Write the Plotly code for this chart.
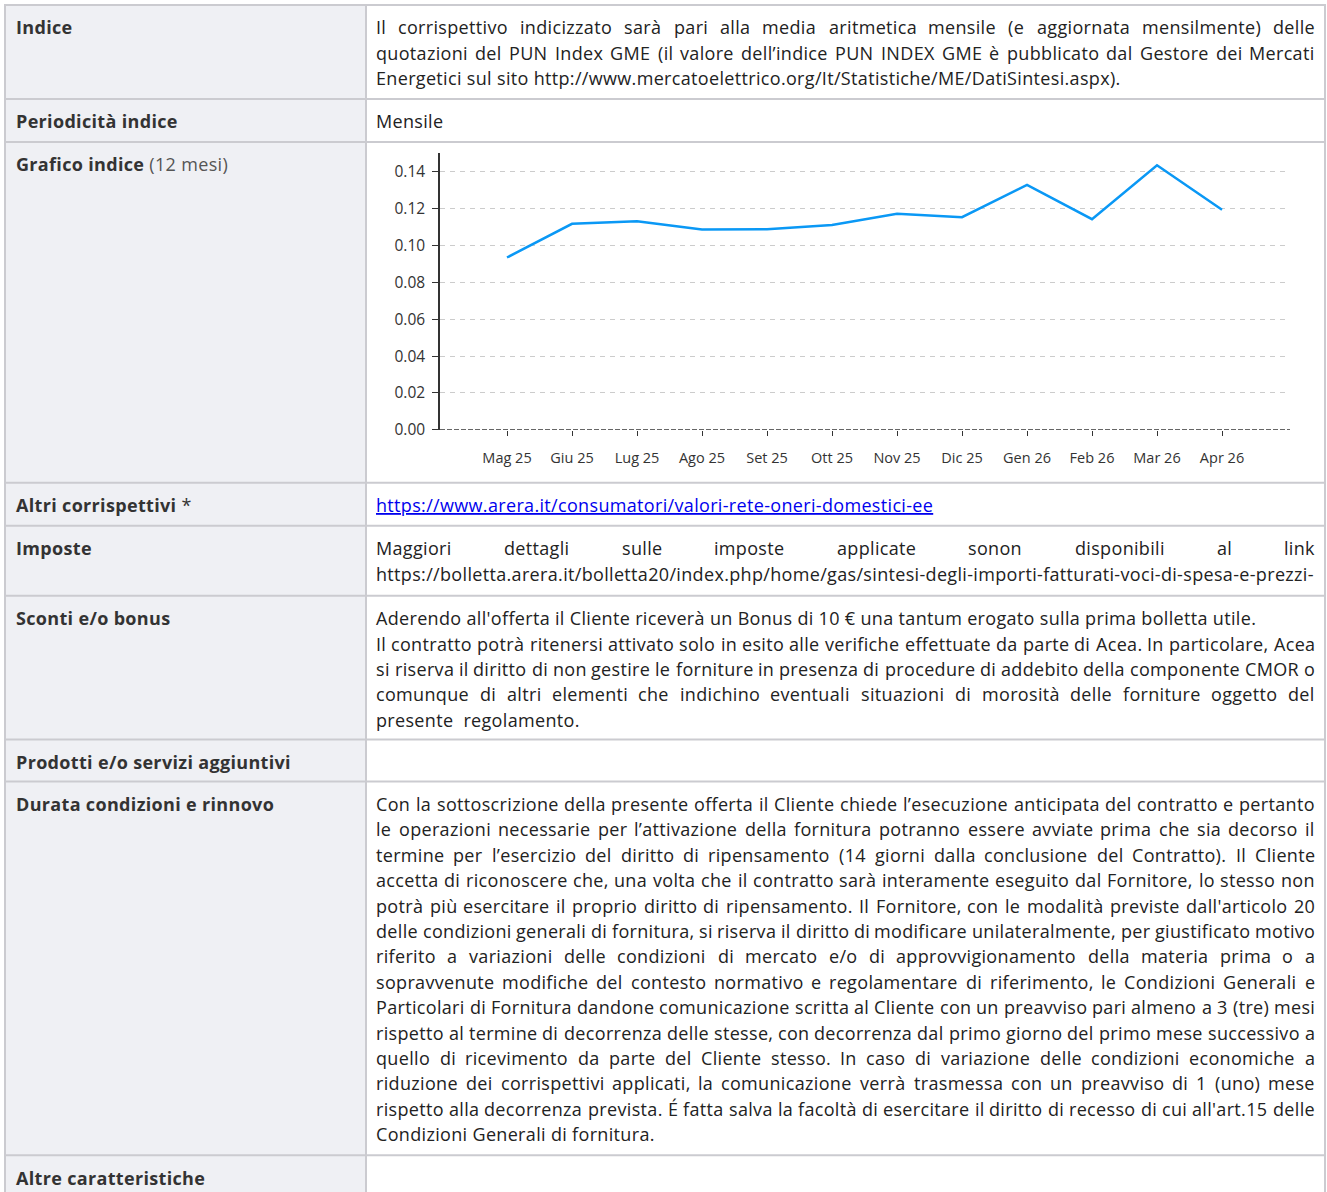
import plotly.graph_objects as go

# ---------------- data ----------------
months = ["Mag 25", "Giu 25", "Lug 25", "Ago 25", "Set 25", "Ott 25",
          "Nov 25", "Dic 25", "Gen 26", "Feb 26", "Mar 26", "Apr 26"]
pun_values = [0.0935, 0.1118, 0.1132, 0.1087, 0.1089, 0.1111,
              0.1172, 0.1154, 0.1329, 0.1143, 0.1436, 0.1194]
y_tick_values = [0.00, 0.02, 0.04, 0.06, 0.08, 0.10, 0.12, 0.14]

row_labels = [
    "<b>Indice</b>",
    "<b>Periodicità indice</b>",
    "<b>Grafico indice</b> <span style='color:#555'>(12 mesi)</span>",
    "<b>Altri corrispettivi</b> *",
    "<b>Imposte</b>",
    "<b>Sconti e/o bonus</b>",
    "<b>Prodotti e/o servizi aggiuntivi</b>",
    "<b>Durata condizioni e rinnovo</b>",
    "<b>Altre caratteristiche</b>",
]

# each line: (text, justified?)
row_texts = [
    [("Il corrispettivo indicizzato sarà pari alla media aritmetica mensile (e aggiornata mensilmente) delle", True),
     ("quotazioni del PUN Index GME (il valore dell’indice PUN INDEX GME è pubblicato dal Gestore dei Mercati", True),
     ("Energetici sul sito http://www.mercatoelettrico.org/It/Statistiche/ME/DatiSintesi.aspx).", False)],
    [("Mensile", False)],
    [],
    [("LINK", False)],
    [("Maggiori dettagli sulle imposte applicate sonon disponibili al link", True),
     ("https://bolletta.arera.it/bolletta20/index.php/home/gas/sintesi-degli-importi-fatturati-voci-di-spesa-e-prezzi-", False)],
    [("Aderendo all'offerta il Cliente riceverà un Bonus di 10 € una tantum erogato sulla prima bolletta utile.", False),
     ("Il contratto potrà ritenersi attivato solo in esito alle verifiche effettuate da parte di Acea. In particolare, Acea", True),
     ("si riserva il diritto di non gestire le forniture in presenza di procedure di addebito della componente CMOR o", True),
     ("comunque di altri elementi che indichino eventuali situazioni di morosità delle forniture oggetto del", True),
     ("presente&nbsp; regolamento.", False)],
    [],
    [("Con la sottoscrizione della presente offerta il Cliente chiede l’esecuzione anticipata del contratto e pertanto", True),
     ("le operazioni necessarie per l’attivazione della fornitura potranno essere avviate prima che sia decorso il", True),
     ("termine per l’esercizio del diritto di ripensamento (14 giorni dalla conclusione del Contratto). Il Cliente", True),
     ("accetta di riconoscere che, una volta che il contratto sarà interamente eseguito dal Fornitore, lo stesso non", True),
     ("potrà più esercitare il proprio diritto di ripensamento. Il Fornitore, con le modalità previste dall'articolo 20", True),
     ("delle condizioni generali di fornitura, si riserva il diritto di modificare unilateralmente, per giustificato motivo", True),
     ("riferito a variazioni delle condizioni di mercato e/o di approvvigionamento della materia prima o a", True),
     ("sopravvenute modifiche del contesto normativo e regolamentare di riferimento, le Condizioni Generali e", True),
     ("Particolari di Fornitura dandone comunicazione scritta al Cliente con un preavviso pari almeno a 3 (tre) mesi", True),
     ("rispetto al termine di decorrenza delle stesse, con decorrenza dal primo giorno del primo mese successivo a", True),
     ("quello di ricevimento da parte del Cliente stesso. In caso di variazione delle condizioni economiche a", True),
     ("riduzione dei corrispettivi applicati, la comunicazione verrà trasmessa con un preavviso di 1 (uno) mese", True),
     ("rispetto alla decorrenza prevista. É fatta salva la facoltà di esercitare il diritto di recesso di cui all'art.15 delle", True),
     ("Condizioni Generali di fornitura.", False)],
    [],
]
link_text = "https://www.arera.it/consumatori/valori-rete-oneri-domestici-ee"

# ---------------- page geometry ----------------
W, H = 1327, 1192
SY = 1.0079  # vertical calibration
row_tops = [5, 99, 142, 483, 526, 596, 740, 782, 1156]
TABLE_L, COL_X, TABLE_R = 5, 366, 1325
TEXT_L, TEXT_R = 376, 1315
LABEL_X = 16
LINE_H = 25.4
FIRST_OFF = 22.5
FONT = "Open Sans"
FS = 18
LS = 0.33  # letter spacing (px)


def X(p):
    return p / W


def Y(p):
    return 1 - p * SY / H


# Open Sans Regular advance widths (units per em 2048)
ADV = {' ': 532, '!': 547, '"': 821, '#': 1323, '$': 1171, '%': 1686, '&': 1495, "'": 453,
       '(': 606, ')': 606, '*': 1130, '+': 1171, ',': 502, '-': 659, '.': 545, '/': 752,
       ':': 545, ';': 545, '?': 879, '@': 1841, '’': 358, '€': 1171,
       'A': 1296, 'B': 1327, 'C': 1292, 'D': 1493, 'E': 1139, 'F': 1057, 'G': 1491, 'H': 1511,
       'I': 571, 'J': 547, 'K': 1257, 'L': 1063, 'M': 1849, 'N': 1544, 'O': 1595, 'P': 1233,
       'Q': 1595, 'R': 1266, 'S': 1124, 'T': 1133, 'U': 1491, 'V': 1219, 'W': 1896, 'X': 1182,
       'Y': 1147, 'Z': 1169, 'É': 1139,
       'a': 1139, 'b': 1255, 'c': 975, 'd': 1255, 'e': 1149, 'f': 694, 'g': 1122, 'h': 1257,
       'i': 518, 'j': 518, 'k': 1075, 'l': 518, 'm': 1905, 'n': 1257, 'o': 1237, 'p': 1255,
       'q': 1255, 'r': 836, 's': 977, 't': 723, 'u': 1257, 'v': 1026, 'w': 1593, 'x': 1073,
       'y': 1028, 'z': 977, 'à': 1139, 'è': 1149, 'é': 1149, 'ù': 1257, 'ì': 518, 'ò': 1237}
for d in "0123456789":
    ADV[d] = 1171


def tw(s, size=FS):
    return sum(ADV.get(c, 1100) for c in s) / 2048 * size + LS * len(s)


def spaced(t):
    return "<span style='letter-spacing:%spx'>%s</span>" % (LS, t)


fig = go.Figure()

# ---------------- chart ----------------
fig.add_trace(go.Scatter(
    x=months, y=pun_values, mode="lines",
    line=dict(color="#0a98f5", width=2.5),
    hoverinfo="skip", showlegend=False,
))

CH_L, CH_R = 440, 1290
CH_T, CH_B = 153.5, 430
fig.update_layout(
    xaxis=dict(
        domain=[X(CH_L), X(CH_R)],
        type="category", categoryorder="array", categoryarray=months,
        range=[-1.031, 12.046],
        showgrid=False, zeroline=False, showline=False,
        ticks="outside", ticklen=5, tickwidth=1, tickcolor="#333",
        tickfont=dict(family=FONT, size=14.5, color="#333"),
        ticklabelstandoff=10, fixedrange=True,
    ),
    yaxis=dict(
        domain=[Y(CH_B), Y(CH_T)],
        range=[0, 0.15],
        tickvals=y_tick_values, tickformat=".2f",
        showgrid=True, gridcolor="#cccccc", gridwidth=1, griddash="5px,5px",
        zeroline=False, showline=True, linecolor="#333", linewidth=1.5,
        ticks="outside", ticklen=6, tickwidth=1, tickcolor="#333",
        tickfont=dict(family=FONT, size=15.5, color="#333"),
        ticklabelstandoff=4, fixedrange=True,
    ),
)

shapes = []
# chart baseline (dashed dark) at y = 0
shapes.append(dict(type="line", xref="x domain", yref="y", x0=0, x1=1, y0=0, y1=0,
                   line=dict(color="#333", width=1.5, dash="5px,2px"), layer="above"))

# ---------------- table ----------------
BORDER = "#cbcbd0"
LEFT_BG = "#eff0f4"
bottoms = row_tops[1:] + [H + 20]
for top, bot in zip(row_tops, bottoms):
    shapes.append(dict(type="rect", xref="paper", yref="paper",
                       x0=X(TABLE_L), x1=X(COL_X), y0=Y(bot), y1=Y(top),
                       fillcolor=LEFT_BG, line=dict(width=0), layer="below"))
for top in row_tops:
    shapes.append(dict(type="line", xref="paper", yref="paper",
                       x0=X(TABLE_L - 1), x1=X(TABLE_R + 1), y0=Y(top), y1=Y(top),
                       line=dict(color=BORDER, width=2), layer="below"))
for xv in (TABLE_L, COL_X, TABLE_R):
    shapes.append(dict(type="line", xref="paper", yref="paper",
                       x0=X(xv), x1=X(xv), y0=Y(row_tops[0]), y1=Y(H + 20),
                       line=dict(color=BORDER, width=2), layer="below"))

annotations = []


def add_text(text, xp, yp, anchor="left", color="#222"):
    annotations.append(dict(
        text=spaced(text), xref="paper", yref="paper", x=X(xp), y=Y(yp),
        xanchor=anchor, yanchor="middle", showarrow=False,
        borderpad=0, borderwidth=0,
        font=dict(family=FONT, size=FS, color=color),
    ))


for i, top in enumerate(row_tops):
    add_text(row_labels[i], LABEL_X, top + FIRST_OFF, color="#333")
    for k, (line, just) in enumerate(row_texts[i]):
        yp = top + FIRST_OFF + k * LINE_H
        if line == "LINK":
            add_text("<u>" + link_text + "</u>", TEXT_L, yp, color="#0000ee")
            continue
        if not just:
            add_text(line, TEXT_L, yp)
            continue
        words = line.split()
        widths = [tw(w) for w in words]
        gap = (TEXT_R - TEXT_L - sum(widths)) / (len(words) - 1)
        xpos = TEXT_L
        for j, w in enumerate(words):
            if j == len(words) - 1:
                add_text(w, TEXT_R, yp, anchor="right")
            else:
                add_text(w, xpos, yp)
            xpos += widths[j] + gap

fig.update_layout(
    width=W, height=H,
    margin=dict(l=0, r=0, t=0, b=0),
    paper_bgcolor="white", plot_bgcolor="white",
    font=dict(family=FONT, size=FS, color="#222"),
    shapes=shapes, annotations=annotations,
    showlegend=False,
)

post = (
    "var de=document.documentElement, b=document.body;"
    "de.style.margin='0'; de.style.padding='0'; de.style.height='1192px'; de.style.overflow='hidden';"
    "b.style.margin='0'; b.style.padding='0'; b.style.height='1192px'; b.style.overflow='hidden';"
    "var g=document.getElementById('{plot_id}');"
    "if(g){g.style.display='block'; if(g.parentElement){g.parentElement.style.height='1192px';"
    "g.parentElement.style.overflow='hidden'; g.parentElement.style.lineHeight='0';}}"
)

fig.write_html("out.html", config={"displayModeBar": False}, post_script=post)
